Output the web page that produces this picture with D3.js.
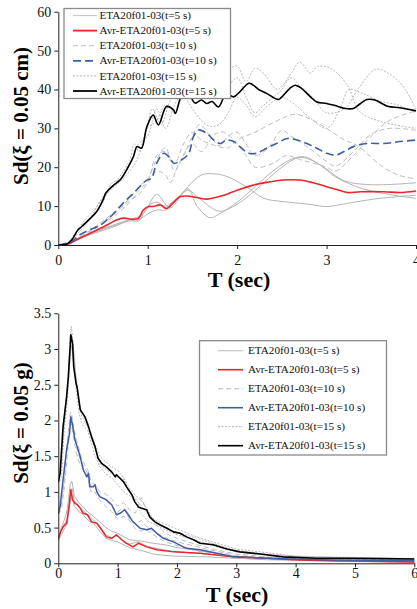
<!DOCTYPE html>
<html><head><meta charset="utf-8">
<script src="https://cdn.jsdelivr.net/npm/d3@7"></script>
<style>body{margin:0;background:#fff}svg{display:block}
svg text{font-family:"Liberation Serif","Times New Roman",serif;}
</style>
</head><body>
<svg id="c" width="417" height="609"></svg>
<script>
// ---------- DATA ----------
const topTicksX = [0,1,2,3,4];
const topTicksY = [0,10,20,30,40,50,60];
const botTicksX = [0,1,2,3,4,5,6];
const botTicksY = [0,0.5,1,1.5,2,2.5,3,3.5];
const legendLabels = ["ETA20f01-03(t=5 s)","Avr-ETA20f01-03(t=5 s)","ETA20f01-03(t=10 s)","Avr-ETA20f01-03(t=10 s)","ETA20f01-03(t=15 s)","Avr-ETA20f01-03(t=15 s)"];

// top chart: Sd (cm) vs T (sec)
const topAvg5 = [[0,0],[0.13,0.4],[0.2,1.3],[0.32,2.6],[0.47,4.3],[0.58,5.6],[0.65,6.4],[0.73,6.9],[0.84,6.6],[0.9,6.9],[0.95,9],[1.01,9.9],[1.06,9.9],[1.14,10.3],[1.21,9.4],[1.27,10.5],[1.36,12.4],[1.44,12.6],[1.55,12.2],[1.66,11.8],[1.77,12.3],[1.88,13],[2.0,14.1],[2.18,15.4],[2.33,16.1],[2.52,16.7],[2.7,16.7],[2.85,16],[3.0,15],[3.15,14],[3.23,13.5],[3.38,13.7],[3.64,13.7],[3.82,13.5],[4.0,13.9]];
const topAvg10 = [[0,0],[0.15,0.9],[0.24,2.6],[0.35,3.9],[0.47,5.1],[0.54,6.4],[0.62,8.1],[0.69,9.9],[0.76,11.6],[0.84,13.3],[0.91,15],[0.99,16.7],[1.04,17.1],[1.1,21],[1.18,23.6],[1.25,22.3],[1.29,21],[1.38,21.9],[1.46,23.6],[1.51,27.8],[1.57,29.6],[1.66,28.7],[1.74,27],[1.81,26.1],[1.88,27],[1.96,26.6],[2.03,25.3],[2.13,23.6],[2.22,23.6],[2.33,24.9],[2.44,26.1],[2.56,27.4],[2.67,27],[2.78,26.1],[2.89,24.9],[3.0,23.6],[3.1,23.1],[3.19,24],[3.3,25.3],[3.45,26.1],[3.64,26.1],[3.82,26.6],[4.0,27]];
const topAvg15 = [[0,0],[0.09,0.2],[0.15,1.3],[0.22,3.9],[0.25,4.5],[0.32,6],[0.43,8.6],[0.5,11.6],[0.53,13.3],[0.62,15.4],[0.69,16.7],[0.78,20],[0.84,22.7],[0.88,25.3],[0.93,24.9],[0.99,30.4],[1.06,33.4],[1.12,30.9],[1.21,35.6],[1.29,34.7],[1.31,33.8],[1.38,38.4],[1.45,39],[1.53,36.5],[1.6,37.3],[1.66,36.4],[1.72,36.9],[1.79,35.5],[1.88,39],[1.96,38.1],[2.03,39.4],[2.13,41.6],[2.18,41.1],[2.24,40],[2.33,39],[2.46,37.4],[2.5,38.1],[2.59,40.3],[2.65,41.1],[2.72,40.3],[2.82,38.1],[2.89,36.8],[3.0,36.4],[3.12,35.7],[3.21,35.1],[3.3,35.1],[3.38,36.4],[3.45,37.4],[3.54,37.3],[3.68,35.7],[3.82,35.3],[4.0,34.5]];

const top5a = [[0,0],[0.1,0.3],[0.2,1.5],[0.4,3.5],[0.6,5],[0.8,6.5],[0.9,6.5],[1.0,8],[1.1,9],[1.2,9],[1.3,11],[1.45,15],[1.6,18],[1.75,18.3],[1.9,17.5],[2.1,15],[2.3,12],[2.5,11.2],[2.8,10.5],[3.0,9.9],[3.3,11],[3.6,12],[4.0,12.8]];
const top5b = [[0,0],[0.1,0.2],[0.2,1.2],[0.4,3],[0.6,4.5],[0.8,6.5],[0.95,8],[1.1,13],[1.25,9.5],[1.45,14.5],[1.55,10],[1.7,7],[1.8,8],[2.0,11],[2.2,15],[2.4,19],[2.6,22],[2.75,22.7],[2.9,21],[3.0,19.5],[3.2,16.5],[3.5,15.5],[4.0,16]];
const top5c = [[0,0],[0.1,0.3],[0.2,1.3],[0.4,3.2],[0.6,4.8],[0.8,6.2],[0.9,6.2],[1.0,10],[1.1,11],[1.2,10],[1.3,11.5],[1.45,14],[1.6,11.5],[1.8,8.7],[2.0,10.5],[2.2,14],[2.5,20],[2.7,22.5],[2.9,21],[3.1,17.5],[3.4,14.5],[3.7,13],[4.0,12]];
const top10a = [[0,0],[0.1,0.3],[0.2,1.5],[0.4,4.5],[0.6,8],[0.8,12],[0.9,15],[1.0,17],[1.1,22],[1.2,25],[1.3,19],[1.4,23],[1.5,28],[1.58,31],[1.7,28],[1.8,25.5],[1.9,28],[2.0,29],[2.1,26],[2.2,23],[2.35,25],[2.5,29.5],[2.6,28],[2.8,25],[3.0,21.5],[3.1,20.3],[3.3,24],[3.5,28.5],[3.7,30],[4.0,29.5]];
const top10b = [[0,0],[0.1,0.3],[0.2,1.2],[0.4,4],[0.6,7.5],[0.8,11.5],[0.9,13],[1.0,16],[1.1,19],[1.2,18],[1.25,16],[1.35,21],[1.5,26],[1.6,24],[1.75,28.5],[1.85,29],[2.0,26],[2.1,23],[2.2,20],[2.4,21],[2.55,23],[2.7,22],[3.0,20],[3.1,19],[3.3,23],[3.5,28],[3.7,32],[4.0,34.5]];
const top10c = [[0,0],[0.1,0.3],[0.2,1.4],[0.4,4.2],[0.6,7],[0.8,11],[0.9,14],[1.0,16.5],[1.1,23],[1.2,24],[1.3,21],[1.4,26],[1.5,29],[1.6,27],[1.7,26],[1.9,25],[2.0,27],[2.2,29],[2.45,32],[2.65,33.6],[2.85,32],[3.0,30],[3.2,27],[3.35,25.5],[3.6,20.6],[3.8,18],[4.0,17]];
const top15a = [[0,0],[0.1,0.5],[0.2,3],[0.3,5.5],[0.4,8.5],[0.5,12.5],[0.6,15],[0.7,18],[0.8,22],[0.85,26],[0.9,24],[1.0,31],[1.05,35],[1.15,31],[1.25,37],[1.35,40],[1.45,44],[1.5,45],[1.6,40],[1.7,38],[1.8,40],[1.9,45],[2.0,46],[2.1,42],[2.2,45.5],[2.3,44],[2.45,40],[2.6,44],[2.7,47],[2.82,44.2],[2.9,45.9],[3.04,45.5],[3.23,41.2],[3.37,34.3],[3.6,31.8],[4.0,30]];
const top15b = [[0,0],[0.1,0.4],[0.2,2.5],[0.3,5],[0.4,8],[0.5,11],[0.6,16],[0.7,17],[0.8,21],[0.9,26],[1.0,28],[1.1,35],[1.2,30],[1.3,36],[1.4,40],[1.55,46],[1.7,42],[1.85,40],[2.0,43],[2.1,38],[2.2,34],[2.3,36],[2.5,40],[2.6,43],[2.7,41],[2.85,37.8],[3.0,34],[3.2,35],[3.35,40],[3.55,45.2],[3.7,44],[3.85,41],[4.0,35]];
const top15c = [[0,0],[0.1,0.6],[0.2,3.5],[0.3,6.5],[0.4,9],[0.5,12],[0.6,14.5],[0.7,16.5],[0.8,19],[0.9,23],[1.0,30],[1.1,32],[1.2,36],[1.3,34],[1.4,38],[1.5,35],[1.6,32],[1.7,30.5],[1.8,31],[1.9,34],[2.0,38],[2.1,36],[2.2,33],[2.35,36],[2.5,38],[2.65,36],[2.8,33],[3.0,30],[3.15,35],[3.25,40],[3.4,39],[3.6,37],[3.8,36],[4.0,34]];

// bottom chart: Sd (g) vs T (sec)
const botAvg5 = [[0,0.34],[0.03,0.42],[0.08,0.51],[0.14,0.56],[0.18,0.79],[0.21,1.03],[0.24,0.89],[0.28,0.84],[0.32,0.82],[0.37,0.77],[0.42,0.7],[0.49,0.68],[0.56,0.58],[0.65,0.56],[0.73,0.47],[0.81,0.37],[0.9,0.35],[0.98,0.4],[1.07,0.33],[1.15,0.28],[1.26,0.23],[1.35,0.28],[1.49,0.23],[1.66,0.19],[1.94,0.16],[2.39,0.14],[2.95,0.09],[3.51,0.07],[4.07,0.047],[4.63,0.037],[5.2,0.028],[6,0.019]];
const botAvg10 = [[0,0.7],[0.03,0.79],[0.08,1.17],[0.14,1.59],[0.19,1.82],[0.21,2.05],[0.24,1.94],[0.28,1.73],[0.32,1.63],[0.37,1.49],[0.42,1.31],[0.48,1.21],[0.51,1.26],[0.53,1.07],[0.59,1.07],[0.62,1.1],[0.65,1.0],[0.7,0.93],[0.81,0.89],[0.9,0.82],[0.98,0.68],[1.04,0.7],[1.12,0.75],[1.18,0.68],[1.26,0.58],[1.38,0.49],[1.49,0.47],[1.57,0.49],[1.66,0.42],[1.77,0.35],[1.94,0.3],[2.16,0.21],[2.39,0.19],[2.67,0.14],[2.95,0.09],[3.51,0.07],[4.07,0.056],[4.63,0.047],[5.2,0.042],[6,0.037]];
const botAvg15 = [[0,1.14],[0.03,1.26],[0.08,1.91],[0.14,2.33],[0.17,2.61],[0.2,3.03],[0.21,3.2],[0.24,3.08],[0.26,2.75],[0.3,2.52],[0.32,2.45],[0.37,2.15],[0.45,2.05],[0.51,1.91],[0.56,1.77],[0.62,1.63],[0.67,1.47],[0.73,1.4],[0.81,1.35],[0.9,1.28],[0.96,1.21],[0.98,1.24],[1.04,1.19],[1.1,1.14],[1.15,1.07],[1.24,0.96],[1.29,0.86],[1.35,0.79],[1.4,0.77],[1.49,0.75],[1.54,0.65],[1.63,0.58],[1.71,0.54],[1.83,0.49],[1.94,0.44],[2.05,0.42],[2.16,0.37],[2.28,0.33],[2.39,0.28],[2.61,0.26],[2.84,0.2],[3.06,0.16],[3.4,0.13],[3.79,0.09],[4.35,0.07],[4.92,0.07],[5.48,0.065],[6,0.06]];

const bot5a = [[0,0.36],[0.05,0.5],[0.1,0.6],[0.15,0.75],[0.2,1.1],[0.23,1.15],[0.27,0.95],[0.3,0.9],[0.35,0.85],[0.4,0.8],[0.5,0.72],[0.6,0.65],[0.7,0.58],[0.8,0.5],[0.9,0.45],[1.0,0.42],[1.2,0.33],[1.4,0.31],[1.6,0.28],[1.8,0.26],[2.0,0.22],[2.5,0.16],[3.0,0.1],[3.5,0.07],[4.0,0.05],[5.0,0.03],[6.0,0.02]];
const bot5b = [[0,0.32],[0.05,0.4],[0.1,0.48],[0.15,0.55],[0.2,0.85],[0.23,0.95],[0.27,0.8],[0.3,0.78],[0.35,0.72],[0.4,0.7],[0.5,0.6],[0.6,0.55],[0.7,0.45],[0.8,0.35],[0.9,0.32],[1.0,0.3],[1.2,0.22],[1.4,0.18],[1.6,0.13],[1.8,0.11],[2.0,0.1],[2.5,0.09],[3.0,0.07],[3.5,0.05],[4.0,0.04],[5.0,0.025],[6.0,0.015]];
const bot5c = [[0,0.34],[0.05,0.45],[0.1,0.55],[0.15,0.6],[0.2,0.9],[0.23,1.05],[0.27,0.88],[0.3,0.85],[0.35,0.8],[0.4,0.75],[0.5,0.68],[0.6,0.6],[0.7,0.52],[0.8,0.4],[0.9,0.36],[1.0,0.38],[1.1,0.3],[1.2,0.27],[1.35,0.3],[1.5,0.24],[1.7,0.2],[2.0,0.16],[2.5,0.13],[3.0,0.09],[4.0,0.05],[5.0,0.03],[6.0,0.02]];
const bot10a = [[0,0.72],[0.05,0.9],[0.1,1.25],[0.15,1.7],[0.2,2.1],[0.22,2.12],[0.26,1.9],[0.3,1.75],[0.35,1.6],[0.4,1.45],[0.5,1.3],[0.55,1.15],[0.6,1.12],[0.7,1.0],[0.8,0.97],[0.9,0.9],[1.0,0.8],[1.1,0.85],[1.2,0.75],[1.3,0.7],[1.4,0.92],[1.5,0.72],[1.6,0.58],[1.8,0.42],[2.0,0.35],[2.3,0.27],[2.6,0.2],[3.0,0.13],[3.5,0.09],[4.0,0.07],[5.0,0.05],[6.0,0.04]];
const bot10b = [[0,0.68],[0.05,0.75],[0.1,1.05],[0.15,1.5],[0.2,1.9],[0.22,1.95],[0.26,1.75],[0.3,1.55],[0.35,1.42],[0.4,1.35],[0.5,1.2],[0.55,1.0],[0.6,1.02],[0.7,0.88],[0.8,0.8],[0.9,0.72],[1.0,0.62],[1.1,0.66],[1.2,0.6],[1.3,0.48],[1.4,0.45],[1.5,0.46],[1.6,0.4],[1.8,0.3],[2.0,0.25],[2.3,0.18],[2.6,0.13],[3.0,0.08],[3.5,0.06],[4.0,0.05],[5.0,0.04],[6.0,0.035]];
const bot10c = [[0,0.7],[0.05,0.8],[0.1,1.15],[0.15,1.6],[0.2,1.98],[0.22,2.05],[0.26,1.85],[0.3,1.65],[0.35,1.5],[0.4,1.4],[0.5,1.25],[0.55,1.08],[0.6,1.08],[0.7,0.95],[0.8,0.88],[0.9,0.8],[1.0,0.72],[1.1,0.78],[1.2,0.62],[1.3,0.55],[1.4,0.6],[1.5,0.5],[1.6,0.45],[1.8,0.36],[2.0,0.3],[2.3,0.24],[2.6,0.18],[3.0,0.11],[3.5,0.08],[4.0,0.06],[5.0,0.045],[6.0,0.04]];
const bot15a = [[0,1.12],[0.05,1.4],[0.1,2.0],[0.15,2.5],[0.2,3.15],[0.22,3.32],[0.25,3.1],[0.3,2.6],[0.35,2.25],[0.4,2.1],[0.5,1.95],[0.6,1.7],[0.7,1.5],[0.8,1.42],[0.9,1.35],[1.0,1.3],[1.1,1.2],[1.2,1.05],[1.3,0.95],[1.4,0.88],[1.5,0.75],[1.6,0.62],[1.8,0.55],[2.0,0.48],[2.3,0.38],[2.6,0.3],[3.0,0.2],[3.5,0.15],[4.0,0.1],[5.0,0.08],[6.0,0.065]];
const bot15b = [[0,1.1],[0.05,1.2],[0.1,1.85],[0.15,2.25],[0.2,2.9],[0.22,3.05],[0.25,2.9],[0.3,2.45],[0.35,2.1],[0.4,1.95],[0.5,1.85],[0.6,1.55],[0.7,1.35],[0.8,1.25],[0.9,1.2],[1.0,1.1],[1.1,1.0],[1.2,0.95],[1.3,0.85],[1.4,0.7],[1.5,0.6],[1.6,0.55],[1.8,0.47],[2.0,0.4],[2.3,0.32],[2.6,0.25],[3.0,0.16],[3.5,0.12],[4.0,0.09],[5.0,0.07],[6.0,0.06]];
const bot15c = [[0,1.15],[0.05,1.3],[0.1,1.95],[0.15,2.4],[0.2,3.05],[0.22,3.2],[0.25,3.05],[0.3,2.55],[0.35,2.2],[0.4,2.05],[0.5,1.9],[0.6,1.65],[0.7,1.4],[0.8,1.32],[0.9,1.25],[1.0,1.2],[1.1,1.18],[1.2,1.0],[1.3,0.9],[1.4,0.8],[1.5,0.7],[1.6,0.6],[1.8,0.5],[2.0,0.44],[2.3,0.36],[2.6,0.28],[3.0,0.18],[3.5,0.13],[4.0,0.1],[5.0,0.075],[6.0,0.06]];

// ---------- STYLES ----------
const RED = "#e8262b", BLUE = "#3f5ea8", G1 = "#b4b4b4", G2 = "#bdbdbd", G3 = "#b0b0b0", GL = "#c8c8c8";
const svg = d3.select("#c");

function chart(cfg){
  const x = d3.scaleLinear().domain(cfg.xd).range(cfg.xr);
  const y = d3.scaleLinear().domain(cfg.yd).range(cfg.yr);
  const g = svg.append("g");
  const clipId = "clip" + cfg.id;
  svg.append("clipPath").attr("id", clipId).append("rect")
    .attr("x", cfg.xr[0]).attr("y", cfg.yr[1]-2).attr("width", cfg.xr[1]-cfg.xr[0]+2).attr("height", cfg.yr[0]-cfg.yr[1]+2);
  const line = d3.line().x(d=>x(d[0])).y(d=>y(d[1])).curve(cfg.curve);
  const pg = g.append("g").attr("clip-path", `url(#${clipId})`);
  cfg.series.forEach(s=>{
    pg.append("path").attr("d", line(s.data)).attr("fill","none")
      .attr("stroke", s.color).attr("stroke-width", s.w)
      .attr("stroke-dasharray", s.dash || null).attr("stroke-linejoin","round");
  });
  const ax = g.append("g").attr("transform", `translate(0,${cfg.yr[0]})`)
    .call(d3.axisBottom(x).tickValues(cfg.xt).tickSize(4).tickSizeOuter(0).tickFormat(d3.format("")));
  const ay = g.append("g").attr("transform", `translate(${cfg.xr[0]},0)`)
    .call(d3.axisLeft(y).tickValues(cfg.yt).tickSize(4).tickSizeOuter(0).tickFormat(d3.format("")));
  [ax, ay].forEach(a=>{
    a.attr("font-family", null);
    a.selectAll("path,line").attr("stroke","#222").attr("stroke-width",1);
    a.selectAll("text").attr("font-size", 14).attr("fill","#111");
  });
  ax.selectAll("text").attr("y", cfg.xLabelBase).attr("dy", 0);
  ay.selectAll("text").attr("x", -7);
  g.append("text").attr("x", cfg.xTitle[0]).attr("y", cfg.xTitle[1]).attr("text-anchor","middle")
    .attr("font-weight","bold").attr("font-size", 22).text("T (sec)");
  g.append("text").attr("transform", `translate(${cfg.yTitle[0]},${cfg.yTitle[1]}) rotate(-90)`)
    .attr("text-anchor","middle").attr("font-weight","bold").attr("font-size", 21)
    .text(cfg.yLabel);
  const L = cfg.legend;
  const lg = g.append("g");
  lg.append("rect").attr("x", L.x).attr("y", L.y).attr("width", L.w).attr("height", L.h)
    .attr("fill","#fff").attr("stroke","#8a8a8a").attr("stroke-width",1.3);
  legendLabels.forEach((lab,i)=>{
    const s = cfg.legendStyles[i];
    const yy = L.y + L.y0 + i*L.dy;
    lg.append("line").attr("x1", L.lx1).attr("x2", L.lx2).attr("y1", yy).attr("y2", yy)
      .attr("stroke", s.color).attr("stroke-width", s.w).attr("stroke-dasharray", s.dash || null);
    lg.append("text").attr("x", L.tx).attr("y", yy).attr("dy","0.33em")
      .attr("font-size", 11.2).attr("fill","#111").text(lab);
  });
}

const topSeries = [
  {data: top5a, color: G1, w: 1},
  {data: top5b, color: G1, w: 1},
  {data: top5c, color: G1, w: 1},
  {data: top10a, color: G2, w: 1, dash: "5,3"},
  {data: top10b, color: G2, w: 1, dash: "5,3"},
  {data: top10c, color: G2, w: 1, dash: "5,3"},
  {data: top15a, color: G3, w: 0.9, dash: "2,1.5"},
  {data: top15b, color: G3, w: 0.9, dash: "2,1.5"},
  {data: top15c, color: G3, w: 0.9, dash: "2,1.5"},
  {data: topAvg5, color: RED, w: 1.6},
  {data: topAvg10, color: BLUE, w: 1.6, dash: "8,4"},
  {data: topAvg15, color: "#000", w: 1.6}
];
chart({
  id: "t", xd:[0,4], xr:[58.3,416], yd:[0,60], yr:[245,11.7],
  xt: topTicksX, yt: topTicksY, curve: d3.curveCatmullRom.alpha(0.5), xLabelBase: 19.5,
  series: topSeries, xTitle:[239,287], yTitle:[28,116], yLabel:"Sd(ξ = 0.05 cm)",
  legend:{x:64, y:8.5, w:166.5, h:90, y0:7, dy:15.1, lx1:73, lx2:97, tx:99.5},
  legendStyles:[
    {color:GL,w:1.2},{color:RED,w:1.8},{color:GL,w:1.2,dash:"5,3"},
    {color:BLUE,w:1.8,dash:"8,4"},{color:G3,w:1,dash:"2,1.5"},{color:"#000",w:1.8}]
});

const botSeries = [
  {data: bot5a, color: G1, w: 1},
  {data: bot5b, color: G1, w: 1},
  {data: bot5c, color: G1, w: 1},
  {data: bot10a, color: G2, w: 1, dash: "5,3"},
  {data: bot10b, color: G2, w: 1, dash: "5,3"},
  {data: bot10c, color: G2, w: 1, dash: "5,3"},
  {data: bot15a, color: G3, w: 0.9, dash: "2,1.5"},
  {data: bot15b, color: G3, w: 0.9, dash: "2,1.5"},
  {data: bot15c, color: G3, w: 0.9, dash: "2,1.5"},
  {data: botAvg5, color: RED, w: 1.5},
  {data: botAvg10, color: BLUE, w: 1.5},
  {data: botAvg15, color: "#000", w: 1.6}
];
chart({
  id: "b", xd:[0,6], xr:[58.3,414.3], yd:[0,3.5], yr:[563.3,313.3],
  xt: botTicksX, yt: botTicksY, curve: d3.curveLinear, xLabelBase: 14.5,
  series: botSeries, xTitle:[237,601.5], yTitle:[28,423], yLabel:"Sd(ξ = 0.05 g)",
  legend:{x:199.5, y:340.7, w:187, h:114.3, y0:10, dy:19, lx1:218, lx2:243, tx:248},
  legendStyles:[
    {color:GL,w:1.2},{color:RED,w:1.6},{color:GL,w:1.2,dash:"5,3"},
    {color:BLUE,w:1.6},{color:G3,w:1,dash:"2,1.5"},{color:"#000",w:1.6}]
});
</script>
</body></html>
